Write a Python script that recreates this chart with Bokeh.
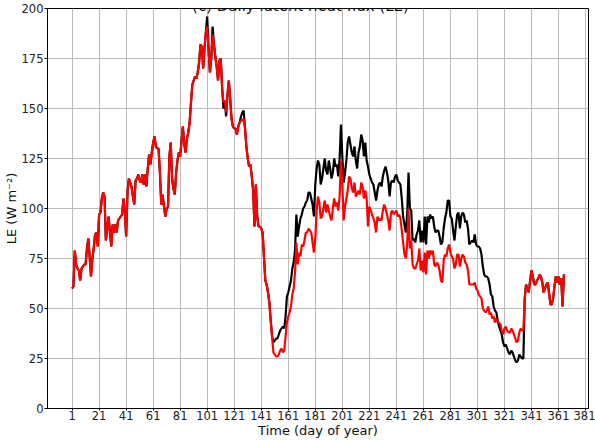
from bokeh.plotting import figure
from bokeh.models import Range1d, FixedTicker, Label
from bokeh.embed import file_html
from bokeh.resources import INLINE

days = list(range(1, 366))

# Shared part (days 1-100)
le_early = [
    60, 61, 79, 72, 70, 69, 64, 70, 71, 72, 72, 80, 85, 76, 66, 75, 80, 87, 88, 81,
    97, 98, 105, 108, 106, 84, 90, 96, 88, 81, 92, 88, 92, 88, 94, 95, 96, 97, 105, 99,
    86, 108, 115, 113, 111, 106, 102, 114, 115, 117, 114, 113, 117, 112, 117, 111, 120, 127, 122, 128,
    133, 136, 131, 130, 130, 118, 102, 107, 101, 96, 100, 101, 126, 133, 115, 110, 107, 118, 124, 128,
    126, 134, 141, 132, 128, 135, 138, 143, 153, 162, 164, 166, 165, 168, 173, 182, 181, 170, 180, 188,
]
# days 101-149, black and red
le_mid_black = [
    196, 180, 168, 175, 191, 182, 176, 171, 164, 174, 175, 161, 150, 154, 146, 157, 164, 155, 145, 141,
    140, 140, 137, 141, 143, 146, 148, 149, 140, 131, 125, 121, 122, 116, 109, 91, 112, 96, 91, 91,
    90, 88, 76, 64, 62, 58, 53, 44, 36,
]
le_mid_red = [
    191, 180, 168, 175, 187, 182, 176, 171, 164, 174, 175, 161, 153, 154, 148, 157, 164, 155, 145, 141,
    140, 140, 137, 141, 143, 144, 144, 145, 140, 131, 125, 121, 122, 116, 109, 91, 112, 96, 91, 91,
    90, 88, 76, 64, 62, 58, 53, 44, 36,
]
# days 150-335
le_late_black = [
    33, 34, 35, 35, 37, 39, 40, 41, 40, 46, 56, 58, 61, 64, 70, 73, 79, 97, 86, 91,
    95, 97, 100, 101, 103, 104, 108, 108, 105, 102, 96, 112, 120, 124, 122, 112, 115, 120, 125, 119,
    117, 124, 120, 115, 118, 125, 121, 122, 116, 125, 142, 126, 113, 118, 124, 133, 136, 132, 128, 126,
    131, 124, 120, 128, 131, 137, 134, 126, 133, 124, 121, 117, 115, 113, 112, 108, 104, 109, 112, 113,
    111, 116, 119, 121, 118, 114, 106, 113, 114, 113, 116, 117, 114, 113, 112, 105, 96, 92, 88, 97,
    118, 100, 99, 84, 85, 83, 87, 89, 94, 83, 89, 83, 96, 82, 96, 93, 97, 95, 96, 91,
    88, 89, 89, 86, 82, 83, 90, 95, 98, 104, 104, 96, 95, 89, 84, 91, 97, 98, 90, 96,
    98, 97, 93, 94, 90, 82, 83, 84, 83, 87, 82, 81, 81, 80, 77, 71, 67, 66, 66, 65,
    62, 57, 56, 51, 49, 48, 44, 41, 39, 37, 33, 31, 32, 30, 28, 27, 29, 28, 26, 24,
    23, 24, 27, 26, 25, 25,
]
le_late_red = [
    28, 27, 26, 26, 27, 29, 30, 28, 29, 36, 43, 46, 48, 51, 57, 60, 68, 83, 72, 78,
    76, 82, 81, 84, 88, 88, 90, 89, 88, 83, 78, 85, 99, 106, 103, 95, 96, 100, 104, 98,
    102, 99, 96, 94, 100, 105, 101, 103, 99, 106, 124, 112, 94, 101, 105, 109, 116, 115, 110, 108,
    113, 106, 107, 109, 107, 113, 111, 105, 109, 105, 91, 101, 99, 97, 95, 93, 88, 96, 94, 95,
    94, 99, 102, 100, 97, 94, 89, 98, 99, 97, 98, 99, 96, 97, 95, 89, 83, 77, 75, 82,
    100, 80, 84, 72, 70, 70, 72, 74, 80, 69, 74, 68, 78, 67, 79, 75, 79, 77, 79, 72,
    71, 73, 72, 69, 64, 63, 74, 77, 76, 80, 82, 78, 76, 75, 70, 72, 77, 77, 71, 75,
    77, 76, 73, 72, 69, 62, 62, 62, 62, 63, 60, 59, 57, 56, 55, 50, 49, 48, 49, 51,
    47, 48, 45, 46, 43, 45, 43, 43, 42, 39, 37, 40, 41, 39, 38, 38, 40, 39, 37, 35,
    33, 34, 38, 40, 39, 39,
]
# days 336-365, shared
le_end = [
    55, 62, 60, 58, 64, 69, 66, 62, 62, 64, 65, 67, 66, 63, 58, 60, 62, 63, 58, 52,
    52, 55, 61, 66, 63, 66, 62, 65, 51, 67,
]

le_black = le_early + le_mid_black + le_late_black + le_end
le_red = le_early + le_mid_red + le_late_red + le_end

x_ticks = list(range(1, 382, 20))
y_ticks = list(range(0, 201, 25))
title_text = "(c) Daily latent heat flux (LE)"

p = figure(width=595, height=440, output_backend="svg", toolbar_location=None,
           x_range=Range1d(-17.2, 383.2), y_range=Range1d(0, 200),
           min_border_left=47, min_border_right=7, min_border_top=8, min_border_bottom=32)

p.line(days, le_black, line_color="black", line_width=2.2)
p.line(days, le_red, line_color="red", line_width=2.2)

p.xaxis.ticker = FixedTicker(ticks=x_ticks)
p.yaxis.ticker = FixedTicker(ticks=y_ticks)
p.xaxis.axis_label = "Time (day of year)"
p.yaxis.axis_label = "LE (W m\u207b\u00b2)"

for ax in (p.xaxis[0], p.yaxis[0]):
    ax.axis_label_text_font = "DejaVu Sans"
    ax.axis_label_text_font_style = "normal"
    ax.axis_label_text_font_size = "13px"
    ax.axis_label_text_color = "#111111"
    ax.major_label_text_font = "DejaVu Sans"
    ax.major_label_text_font_size = "11.5px"
    ax.major_label_text_color = "#222222"
    ax.minor_tick_line_color = None
    ax.major_tick_in = 0
    ax.axis_label_standoff = 0
    ax.axis_line_color = "black"

p.xaxis.major_tick_out = 2
p.xaxis.major_label_standoff = 0
p.yaxis.major_tick_out = 3
p.yaxis.major_label_standoff = 1

p.add_layout(Label(x=170, y=201.5, text=title_text, text_align="center",
                   text_baseline="alphabetic", text_font="DejaVu Sans",
                   text_font_size="15px", text_color="#111111"))

p.xgrid.grid_line_color = "#bbbbbb"
p.ygrid.grid_line_color = "#bbbbbb"
p.xgrid.grid_line_width = 1
p.ygrid.grid_line_width = 1
p.outline_line_color = "black"
p.outline_line_width = 1
p.background_fill_color = "white"
p.border_fill_color = "white"

open("out.html", "w").write(file_html(p, INLINE))
